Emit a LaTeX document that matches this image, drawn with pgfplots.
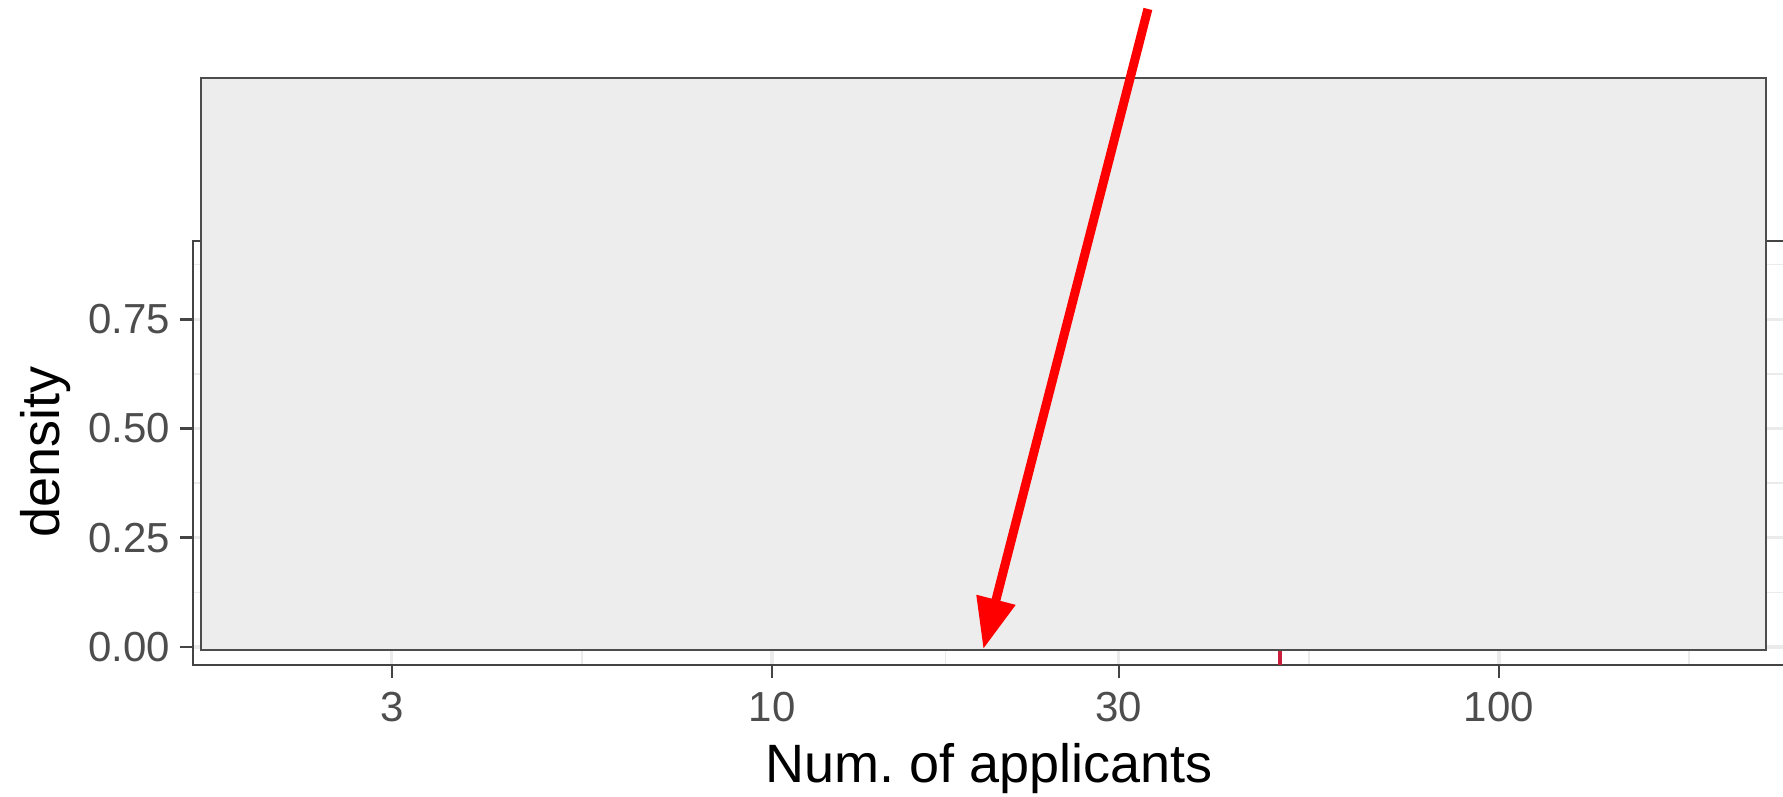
\documentclass[border=0pt]{standalone}
\usepackage{pgfplots}
\pgfplotsset{compat=1.18}
\usepackage{fontspec}
\setmainfont{Liberation Sans}
\usetikzlibrary{arrows.meta}
\definecolor{gridc}{HTML}{EBEBEB}
\definecolor{grey20}{HTML}{444444}
\definecolor{grey30}{HTML}{4D4D4D}
\definecolor{boxfill}{HTML}{EDEDED}
\definecolor{boxline}{HTML}{4D4D4D}
\definecolor{vlinec}{RGB}{200,30,60}
\frenchspacing
\begin{document}
\begin{tikzpicture}
\begin{scope}
\clip (0,0) rectangle (891.5pt,398.5pt);
\begin{axis}[
  at={(96.5pt,66pt)}, anchor=south west,
  scale only axis, width=796.5pt, height=212pt,
  xmode=log, log basis x=10,
  xmin=1.598, xmax=248.2, ymin=-0.0412, ymax=0.929,
  xtick={3,10,30,100}, xticklabels={3,10,30,100},
  ytick={0,0.25,0.5,0.75}, yticklabels={0.00,0.25,0.50,0.75},
  minor xtick={5.477,17.32,54.77,182.6},
  minor ytick={0.125,0.375,0.625,0.875},
  grid=both,
  major grid style={gridc, line width=1.6pt},
  minor grid style={gridc, line width=0.8pt},
  minor tick length=0pt,
  major tick length=6.5pt,
  tick align=outside,
  xtick pos=bottom, ytick pos=left,
  tick style={grey20, line width=1.3pt},
  axis line style={grey20, line width=1.2pt},
  ticklabel style={font=\fontsize{21}{25}\selectfont, text=grey30},
  xticklabel style={yshift=-3.5pt},
  yticklabel style={xshift=-1.5pt},
  label style={font=\fontsize{27}{31}\selectfont, text=black},
  xlabel={Num. of applicants}, ylabel={density},
  xlabel style={at={(axis description cs:0.4997,-0.276)}, anchor=base},
  ylabel style={at={(axis description cs:-0.0835,0.502)}, anchor=base},
]
\addplot[vlinec, line width=2pt] coordinates {(50,-0.0412) (50,0.929)};
\coordinate (boxA) at (axis cs:1.639,-0.00686);
\coordinate (boxB) at (axis cs:232.9,1.302);
\coordinate (arrS) at (axis cs:32.89,1.46);
\coordinate (arrE) at (axis cs:19.53,-0.005);
\end{axis}
\draw[boxline, line width=1.2pt, fill=boxfill] (boxA) rectangle (boxB);
\draw[red, line width=4.5pt, -{Triangle[length=25.5pt,width=19pt]}] (arrS) -- (arrE);
\end{scope}
\pgfresetboundingbox
\path[use as bounding box] (0,0) rectangle (891.5pt,398.5pt);
\end{tikzpicture}
\end{document}
